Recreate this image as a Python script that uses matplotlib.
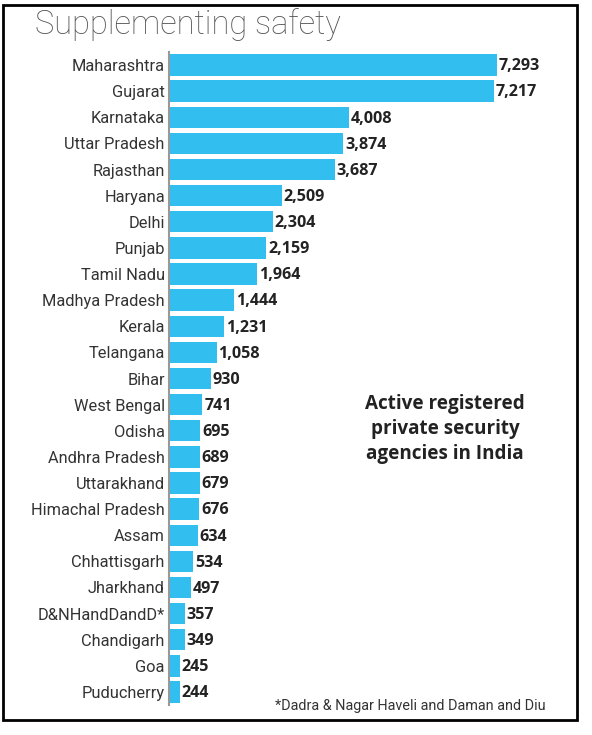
import matplotlib.pyplot as plt
from matplotlib.patches import Rectangle
from matplotlib import font_manager

states = ["Maharashtra", "Gujarat", "Karnataka", "Uttar Pradesh", "Rajasthan",
          "Haryana", "Delhi", "Punjab", "Tamil Nadu", "Madhya Pradesh", "Kerala",
          "Telangana", "Bihar", "West Bengal", "Odisha", "Andhra Pradesh",
          "Uttarakhand", "Himachal Pradesh", "Assam", "Chhattisgarh", "Jharkhand",
          "D&NHandDandD*", "Chandigarh", "Goa", "Puducherry"]
agencies = [7293, 7217, 4008, 3874, 3687, 2509, 2304, 2159, 1964, 1444, 1231,
            1058, 930, 741, 695, 689, 679, 676, 634, 534, 497, 357, 349, 245, 244]

names = {f.name for f in font_manager.fontManager.ttflist}
narrow = "Liberation Sans Narrow" if "Liberation Sans Narrow" in names else "Roboto"
plt.rcParams["font.family"] = [narrow, "DejaVu Sans"]

W, H = 592, 735
fig = plt.figure(figsize=(W / 100, H / 100), dpi=100)

# outer frame
fig.patches.append(Rectangle((3 / W, 1 - 720 / H), 574 / W, 715 / H,
                             transform=fig.transFigure, fill=False,
                             edgecolor="black", linewidth=2))

x0, x1 = 169, 169 + 8000 * 0.045
ax = fig.add_axes([x0 / W, 1 - 705 / H, (x1 - x0) / W, 653 / H])

pos = list(range(len(states)))
ax.barh(pos, agencies, height=0.82, color="#33BEF0")
ax.set_ylim(len(states) - 0.5, -0.5)
ax.set_xlim(0, 8000)

for p, v in zip(pos, agencies):
    ax.text(v + 40, p + 0.05, f"{v:,}", ha="left", va="center", fontsize=11.6,
            fontweight="bold", color="#222222", family=["Open Sans", "DejaVu Sans"])

ax.set_yticks(pos)
ax.set_yticklabels(states, fontsize=11.8, color="#333333")
ax.tick_params(axis="y", length=0, pad=3)
ax.set_xticks([])
for s in ["top", "right", "bottom"]:
    ax.spines[s].set_visible(False)
ax.spines["left"].set_color("#999999")
ax.spines["left"].set_linewidth(1.5)

fig.text(35 / W, 1 - 25 / H, "Supplementing safety", fontsize=23.5,
         fontweight="light", color="#555555", ha="left", va="center",
         family=["Roboto", "DejaVu Sans"])

fig.text(445 / W, 1 - 429 / H, "Active registered\nprivate security\nagencies in India",
         ha="center", va="center", fontsize=13.6, fontweight="bold",
         color="#222222", linespacing=1.3, family=["Open Sans", "DejaVu Sans"])

fig.text(275 / W, 1 - 706 / H, "*Dadra & Nagar Haveli and Daman and Diu",
         ha="left", va="center", fontsize=10.4, color="#333333")

fig.savefig("out.png", dpi=100)
